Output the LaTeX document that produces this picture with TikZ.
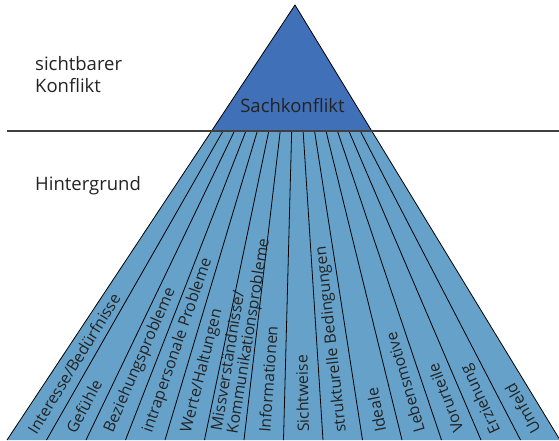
\documentclass[tikz,border=0pt]{standalone}
\usepackage{fontspec}
\setmainfont{Open Sans}
\usetikzlibrary{calc}
\definecolor{sachblau}{RGB}{64,112,184}
\definecolor{grundblau}{RGB}{102,161,201}
\definecolor{textgrau}{RGB}{35,35,35}
\tikzset{
    ebene/.style={anchor=north west, align=left, inner sep=0pt, text=textgrau, font=\fontsize{18.5}{22}\selectfont},
    ursache/.style={sloped, allow upside down, anchor=west, align=left, inner sep=0pt, text=textgrau, font=\fontsize{15.8}{16}\selectfont},
    strahl/.style={draw=black, line width=0.8pt},
    trennlinie/.style={draw=black!75, line width=1.4pt}
}

\begin{document}
\begin{tikzpicture}[x=1pt, y=-1pt]
    \useasboundingbox (0,0) rectangle (559,440);
    \clip (0,0) rectangle (559,440);

    % Eckpunkte
    \coordinate (apex) at (295,5);
    \coordinate (bl) at (7,440);
    \coordinate (br) at (560,440);
    \coordinate (tl) at ($(apex)!0.2897!(bl)$);
    \coordinate (tr) at ($(apex)!0.2897!(br)$);
    \coordinate (linksende) at (7,131);
    \coordinate (rechtsende) at (559,131);

    % Flaechen
    \fill[grundblau] (tl) -- (tr) -- (br) -- (bl) -- cycle;
    \fill[sachblau] (apex) -- (tr) -- (tl) -- cycle;

    % Strahlen
    \foreach \i in {1,...,13}
        \draw[strahl] ($(tl)!\i/14!(tr)$) -- ($(bl)!\i/14!(br)$);
    \draw[strahl] (bl) -- (apex) -- (br);

    % Trennlinie
    \draw[trennlinie] (linksende) -- (rechtsende);

    % Ebenen
    \node[ebene] (sichtbar) at (35,56) {sichtbarer\\Konflikt};
    \node[ebene] (hintergrund) at (35,176) {Hintergrund};
    \node[text=textgrau, font=\fontsize{18.5}{22}\selectfont, inner sep=0pt] (sach) at (292.5,106) {Sachkonflikt};

    % Ursachen
    \foreach \name [count=\k from 1, evaluate=\k as \t using (\k-0.5)/14] in
        {{Interesse/Bedürfnisse}, {Gefühle}, {Beziehungsprobleme}, {intrapersonale Probleme},
         {Werte/Haltungen}, {Missverständnisse/\\Kommunikationsprobleme}, {Informationen},
         {Sichtweise}, {strukturelle Bedingungen}, {Ideale}, {Lebensmotive}, {Vorurteile},
         {Erziehung}, {Umfeld}}
        \path ($(bl)!\t!(br)$) -- ($(tl)!\t!(tr)$) node[ursache, pos=0.025] (ursache\k) {\name};
\end{tikzpicture}
\end{document}
